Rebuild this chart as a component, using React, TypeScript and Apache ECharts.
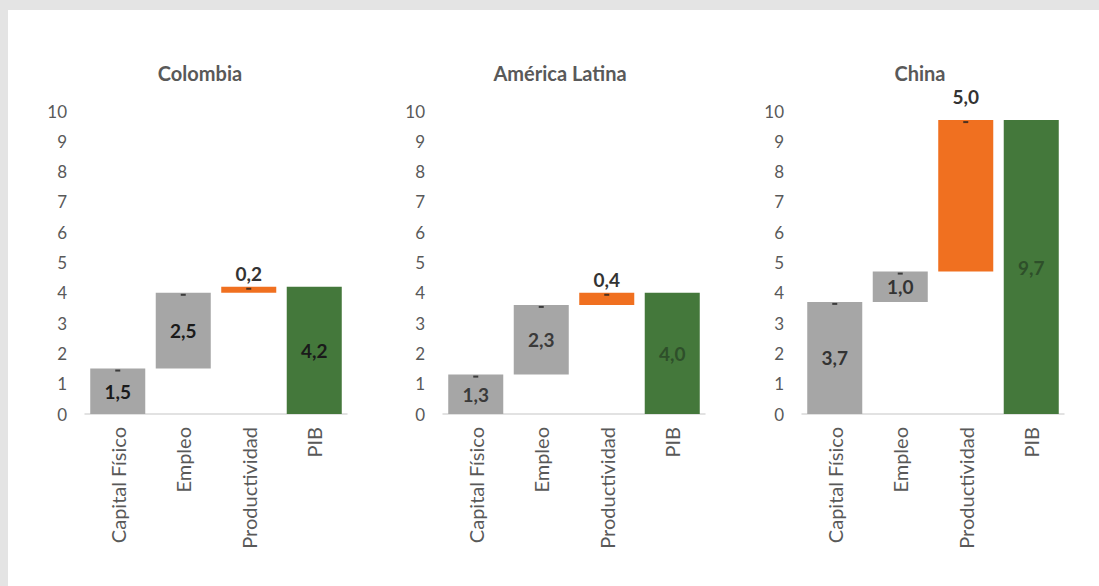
import React, { useEffect, useRef } from "react";
import * as echarts from "echarts";

const categories = ["Capital Físico", "Empleo", "Productividad", "PIB"];
const titles = ["Colombia", "América Latina", "China"];
const colombiaValues = [1.5, 2.5, 0.2, 4.2];
const latamValues = [1.3, 2.3, 0.4, 4.0];
const chinaValues = [3.7, 1.0, 5.0, 9.7];

const GREY = "#a6a6a6";
const ORANGE = "#f07020";
const GREEN = "#44783b";
const FONT = "Lato, 'Open Sans', sans-serif";

const panels = [
  { values: colombiaValues, left: 85, titleX: 200, labelColor: "#1a1a1a", weight: "bold" as const, totalColor: "#1a1a1a" },
  { values: latamValues, left: 443, titleX: 560, labelColor: "#3a3a3a", weight: "bold" as const, totalColor: "#2e4f2a" },
  { values: chinaValues, left: 802, titleX: 920, labelColor: "#333333", weight: "bold" as const, totalColor: "#2e4f2a" },
];

function bases(values: number[]) {
  const out: number[] = [];
  let acc = 0;
  values.forEach((v, i) => {
    if (i === values.length - 1) out.push(0);
    else {
      out.push(acc);
      acc += v;
    }
  });
  return out;
}

const fmt = (v: number) => v.toFixed(1).replace(".", ",");

export default function App() {
  const ref = useRef<HTMLDivElement>(null);
  useEffect(() => {
    document.body.style.margin = "0";
    const chart = echarts.init(ref.current!, undefined, { renderer: "svg" });
    const grids: any[] = [];
    const xAxes: any[] = [];
    const yAxes: any[] = [];
    const series: any[] = [];
    const graphics: any[] = [];
    panels.forEach((p, gi) => {
      grids.push({ left: p.left, top: 111, width: 262, height: 303 });
      graphics.push({
        type: "text",
        x: p.titleX,
        y: 73,
        style: {
          text: titles[gi],
          textAlign: "center",
          textVerticalAlign: "middle",
          font: `bold 20px ${FONT}`,
          fill: "#595959",
        },
      });
      xAxes.push({
        type: "category",
        gridIndex: gi,
        data: categories,
        axisLine: { lineStyle: { color: "#d9d9d9", width: 1.5 } },
        axisTick: { show: false },
        axisLabel: { rotate: 90, margin: 13, fontFamily: FONT, fontSize: 20, color: "#595959", interval: 0 },
      });
      yAxes.push({
        type: "value",
        gridIndex: gi,
        min: 0,
        max: 10,
        interval: 1,
        splitLine: { show: false },
        axisLine: { show: false },
        axisTick: { show: false },
        axisLabel: { margin: 18, fontFamily: FONT, fontSize: 17, color: "#595959" },
      });
      const b = bases(p.values);
      series.push({
        type: "bar",
        xAxisIndex: gi,
        yAxisIndex: gi,
        stack: "s" + gi,
        data: b,
        itemStyle: { color: "transparent" },
        barWidth: "84%",
        silent: true,
      });
      series.push({
        type: "bar",
        xAxisIndex: gi,
        yAxisIndex: gi,
        stack: "s" + gi,
        barWidth: "84%",
        data: p.values.map((v, i) => {
          const isTotal = i === p.values.length - 1;
          const isProd = i === 2;
          const color = isTotal ? GREEN : isProd ? ORANGE : GREY;
          return {
            value: v,
            itemStyle: { color },
            label: {
              show: true,
              position: isProd ? "top" : "inside",
              distance: isProd ? (gi === 2 ? 14 : 4) : 5,
              formatter: () => fmt(v),
              fontFamily: FONT,
              fontSize: 19,
              fontWeight: p.weight,
              color: isProd ? "#333333" : isTotal ? p.totalColor : p.labelColor,
            },
          };
        }),
      });
      series.push({
        type: "scatter",
        xAxisIndex: gi,
        yAxisIndex: gi,
        symbol: "rect",
        symbolSize: [5, 2],
        silent: true,
        itemStyle: { color: "#222222" },
        data: p.values.slice(0, 3).map((v, i) => [i, b[i] + v - (10 / 303) * 2]),
      });
    });
    chart.setOption({
      animation: false,
      backgroundColor: "transparent",
      graphic: graphics,
      grid: grids,
      xAxis: xAxes,
      yAxis: yAxes,
      series,
    });
    return () => chart.dispose();
  }, []);
  return (
    <div
      style={{
        position: "absolute",
        left: 0,
        top: 0,
        width: 1099,
        height: 586,
        background: "#e4e4e4",
      }}
    >
      <div
        style={{ position: "absolute", left: 8, top: 10, width: 1091, height: 576, background: "#fff" }}
      />
      <div ref={ref} style={{ position: "absolute", left: 0, top: 0, width: 1099, height: 586 }} />
    </div>
  );
}
